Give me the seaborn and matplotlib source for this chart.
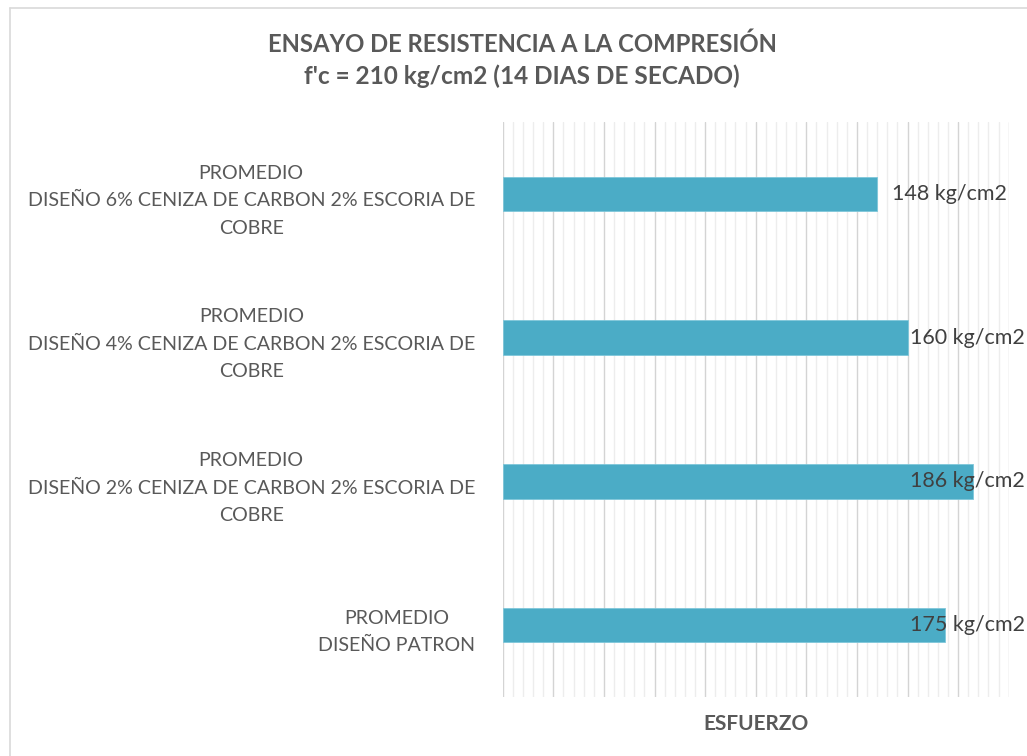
import matplotlib
matplotlib.use("Agg")
import matplotlib.pyplot as plt
from matplotlib.ticker import MultipleLocator
from matplotlib.lines import Line2D
import seaborn as sns
import pandas as pd

# ---- data ----
categories = [
    "PROMEDIO\nDISEÑO 6% CENIZA DE CARBON 2% ESCORIA DE\nCOBRE",
    "PROMEDIO\nDISEÑO 4% CENIZA DE CARBON 2% ESCORIA DE\nCOBRE",
    "PROMEDIO\nDISEÑO 2% CENIZA DE CARBON 2% ESCORIA DE\nCOBRE",
    "PROMEDIO\nDISEÑO PATRON",
]
values = [148, 160, 186, 175]
value_labels = ["148 kg/cm2", "160 kg/cm2", "186 kg/cm2", "175 kg/cm2"]
title_lines = ["ENSAYO DE RESISTENCIA A LA COMPRESIÓN", "f'c = 210 kg/cm2 (14 DIAS DE SECADO)"]
x_label = "ESFUERZO"

df = pd.DataFrame({"categoria": categories, "esfuerzo": values})

sns.set_theme(style="white")
plt.rcParams["font.family"] = ["Lato", "DejaVu Sans"]

W, H = 1027, 756
fig = plt.figure(figsize=(W / 100, H / 100), dpi=100)
ax = fig.add_axes([502.7 / W, 1 - 697 / H, (1008.7 - 502.7) / W, (697 - 122) / H])

sns.barplot(data=df, x="esfuerzo", y="categoria", order=categories, orient="h",
            color="#4BACC6", saturation=1, width=0.24, edgecolor="#7FC7DA",
            linewidth=0.6, ax=ax, zorder=3)

ax.set_xlim(0, 200)
ax.xaxis.set_major_locator(MultipleLocator(20))
ax.xaxis.set_minor_locator(MultipleLocator(4))
ax.grid(axis="x", which="major", color="#D4D4D4", linewidth=1.0, zorder=0)
ax.grid(axis="x", which="minor", color="#EDEDED", linewidth=1.0, zorder=0)
ax.set_axisbelow(True)
ax.tick_params(axis="x", which="both", length=0, labelbottom=False)
ax.tick_params(axis="y", length=0, pad=20)
for s in ax.spines.values():
    s.set_visible(False)

for lbl in ax.get_yticklabels():
    lbl.set_fontsize(14.1)
    lbl.set_color("#595959")
    lbl.set_multialignment("center")
    lbl.set_linespacing(1.75)

ax.set_ylabel("")
ax.set_xlabel(x_label, fontsize=15, fontweight="bold", color="#595959", labelpad=12)

# value labels (pushed inside chart area if they would overflow)
fig.canvas.draw()
renderer = fig.canvas.get_renderer()
limit_px = 1025
for i, (v, t) in enumerate(zip(values, value_labels)):
    txt = ax.annotate(t, xy=(v, i), xytext=(11, 0), textcoords="offset points",
                      ha="left", va="center", fontsize=15.5, color="#404040", zorder=5)
    bb = txt.get_window_extent(renderer)
    if bb.x1 > limit_px:
        txt.remove()
        xr = ax.transData.inverted().transform((limit_px, 0))[0]
        ax.text(xr, i, t, ha="right", va="center", fontsize=15.5, color="#404040",
                zorder=5, clip_on=False)

fig.text(522 / W, 1 - 44 / H, title_lines[0], ha="center", va="center",
         fontsize=17.2, fontweight="bold", color="#595959")
fig.text(522 / W, 1 - 76 / H, title_lines[1], ha="center", va="center",
         fontsize=17.6, fontweight="bold", color="#595959")

# chart border (top and left visible)
fig.add_artist(Line2D([10 / W, 10 / W], [0, 1 - 8 / H], transform=fig.transFigure,
                      color="#D9D9D9", linewidth=1.2))
fig.add_artist(Line2D([10 / W, 1], [1 - 8 / H, 1 - 8 / H], transform=fig.transFigure,
                      color="#D9D9D9", linewidth=1.2))

fig.savefig("out.png", dpi=100, facecolor="white")
